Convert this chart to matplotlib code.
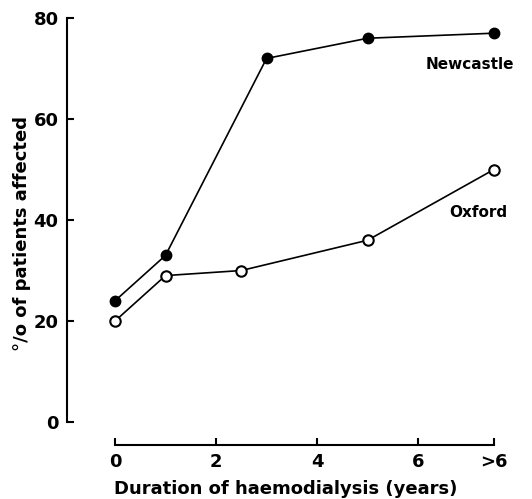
#!/usr/bin/env python3
"""Percentage of haemodialysis patients affected, Newcastle vs Oxford."""

import matplotlib

matplotlib.use("Agg")
import matplotlib.pyplot as plt

# data
years = [0, 1, 3, 5, 7.5]
newcastle = [24, 33, 72, 76, 77]
oxford_years = [0, 1, 2.5, 5, 7.5]
oxford = [20, 29, 30, 36, 50]

x_ticks = [0, 2, 4, 6, 7.5]
x_tick_labels = ["0", "2", "4", "6", ">6"]
y_ticks = [0, 20, 40, 60, 80]

W, H = 532, 499


def main() -> None:
    plt.rcParams["font.family"] = ["DejaVu Sans"]
    plt.rcParams["font.weight"] = "bold"

    fig = plt.figure(figsize=(W / 100, H / 100), dpi=100)
    ax = fig.add_axes([67 / W, 54 / H, (504 - 67) / W, (486 - 54) / H])

    ax.plot(years, newcastle, color="black", linewidth=1.2, marker="o",
            markersize=7.5, markerfacecolor="black", markeredgecolor="black")
    ax.plot(oxford_years, oxford, color="black", linewidth=1.2, marker="o",
            markersize=7.5, markerfacecolor="white", markeredgecolor="black",
            markeredgewidth=1.5)

    ax.set_xlim(-0.95, 7.7)
    ax.set_ylim(-4.55, 81)

    for side in ("top", "right"):
        ax.spines[side].set_visible(False)
    ax.spines["left"].set_bounds(0, 80)
    ax.spines["bottom"].set_bounds(0, 7.5)
    ax.spines["left"].set_linewidth(1.5)
    ax.spines["bottom"].set_linewidth(1.5)

    ax.set_xticks(x_ticks)
    ax.set_xticklabels(x_tick_labels)
    ax.set_yticks(y_ticks)
    ax.tick_params(direction="in", length=5, width=1.5, labelsize=13, pad=6)

    ax.set_xlabel("Duration of haemodialysis (years)", fontsize=13,
                  fontweight="bold", labelpad=6)
    ax.set_ylabel("°/o of patients affected", fontsize=13,
                  fontweight="bold")
    ax.yaxis.set_label_coords(-0.083, 0.49)

    ax.text(7.03, 70.9, "Newcastle", ha="center", va="center",
            fontsize=11, fontweight="bold")
    ax.text(7.19, 41.5, "Oxford", ha="center", va="center",
            fontsize=11, fontweight="bold")

    fig.savefig("out.png", dpi=100)
    plt.close(fig)


if __name__ == "__main__":
    main()
